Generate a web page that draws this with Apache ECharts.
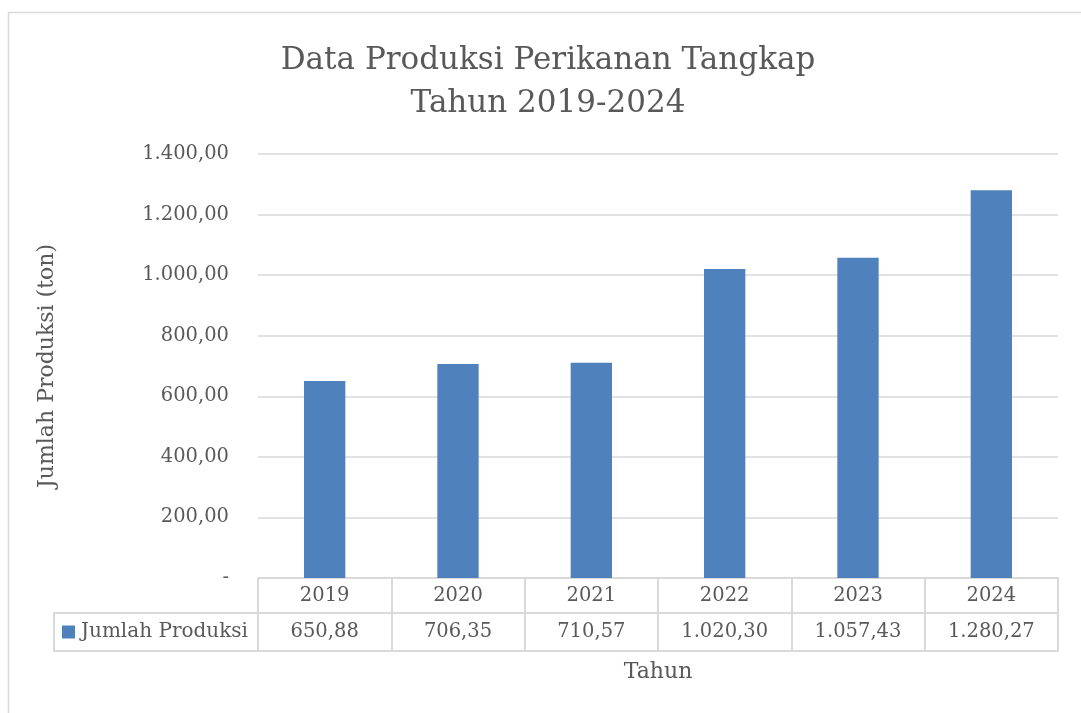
<!DOCTYPE html>
<html>
<head>
<meta charset="utf-8">
<script src="https://cdn.jsdelivr.net/npm/echarts@6/dist/echarts.min.js"></script>
<style>
  html, body { margin: 0; padding: 0; background: #fff; }
  #chart { width: 1081px; height: 713px; }
</style>
</head>
<body>
<div id="chart"></div>
<script>
  // data
  const tahun = ['2019', '2020', '2021', '2022', '2023', '2024']
  const jumlahProduksi = [650.88, 706.35, 710.57, 1020.30, 1057.43, 1280.27]
  const yTicks = { min: 0, max: 1400, interval: 200 }

  const FONT = 'DejaVu Serif'
  const TEXT = '#595959'
  const LINE = '#d9d9d9'

  // format angka gaya Indonesia: 1.020,30 ; nol jadi "-"
  function fmt(v) {
    if (v === 0) return '-'
    let parts = v.toFixed(2).split('.')
    parts[0] = parts[0].replace(/\B(?=(\d{3})+(?!\d))/g, '.')
    return parts[0] + ',' + parts[1]
  }

  const chart = echarts.init(document.getElementById('chart'))
  chart.setOption({
    animation: false,
    textStyle: { fontFamily: FONT, color: TEXT },
    title: {
      text: 'Data Produksi Perikanan Tangkap\nTahun 2019-2024',
      left: 543,
      textAlign: 'center',
      top: 34,
      textStyle: { fontFamily: FONT, fontWeight: 'normal', fontSize: 31, color: TEXT, lineHeight: 43 }
    },
    legend: {
      left: 62,
      top: 622,
      itemWidth: 13,
      itemHeight: 13,
      itemGap: 4,
      icon: 'rect',
      padding: 0,
      textStyle: { fontFamily: FONT, fontSize: 20, color: TEXT, padding: [2, 0, 0, 1] },
      data: ['Jumlah Produksi']
    },
    grid: { left: 258, right: 23, top: 154, bottom: 135 },
    yAxis: {
      type: 'value',
      min: yTicks.min,
      max: yTicks.max,
      interval: yTicks.interval,
      name: 'Jumlah Produksi (ton)',
      nameLocation: 'middle',
      nameRotate: 90,
      nameGap: 200,
      nameTextStyle: { fontFamily: FONT, fontSize: 22, color: TEXT },
      axisLine: { show: false },
      axisTick: { show: false },
      axisLabel: { margin: 29, fontFamily: FONT, fontSize: 19.5, color: TEXT, formatter: fmt },
      splitLine: { lineStyle: { color: LINE, width: 1.5 } }
    },
    xAxis: [
      {
        type: 'category',
        data: tahun,
        position: 'bottom',
        name: 'Tahun',
        nameLocation: 'middle',
        nameGap: 83,
        nameTextStyle: { fontFamily: FONT, fontSize: 22, color: TEXT },
        axisLine: { lineStyle: { color: LINE, width: 2 } },
        axisTick: { show: true, interval: 0, length: 73, lineStyle: { color: LINE, width: 2 } },
        axisLabel: { margin: 8, fontFamily: FONT, fontSize: 19.5, color: TEXT }
      },
      {
        type: 'category',
        data: tahun,
        position: 'bottom',
        offset: 35,
        axisLine: { lineStyle: { color: LINE, width: 2 } },
        axisTick: { show: false },
        axisLabel: {
          margin: 9, fontFamily: FONT, fontSize: 19.5, color: TEXT,
          formatter: function (v, i) { return fmt(jumlahProduksi[i]) }
        }
      },
      {
        type: 'category',
        data: tahun,
        position: 'bottom',
        offset: 73,
        axisLine: { lineStyle: { color: LINE, width: 2 } },
        axisTick: { show: false },
        axisLabel: { show: false }
      }
    ],
    graphic: [
      {
        type: 'rect',
        shape: { x: 8.5, y: 12.5, width: 1100, height: 720 },
        style: { fill: 'none', stroke: LINE, lineWidth: 1.5 },
        silent: true
      },
      {
        type: 'rect',
        shape: { x: 54, y: 613, width: 204, height: 38 },
        style: { fill: 'none', stroke: LINE, lineWidth: 2 },
        silent: true
      }
    ],
    series: [
      {
        name: 'Jumlah Produksi',
        type: 'bar',
        xAxisIndex: 0,
        barWidth: '31%',
        itemStyle: { color: '#4f81bd' },
        data: jumlahProduksi
      }
    ]
  })
</script>
</body>
</html>
